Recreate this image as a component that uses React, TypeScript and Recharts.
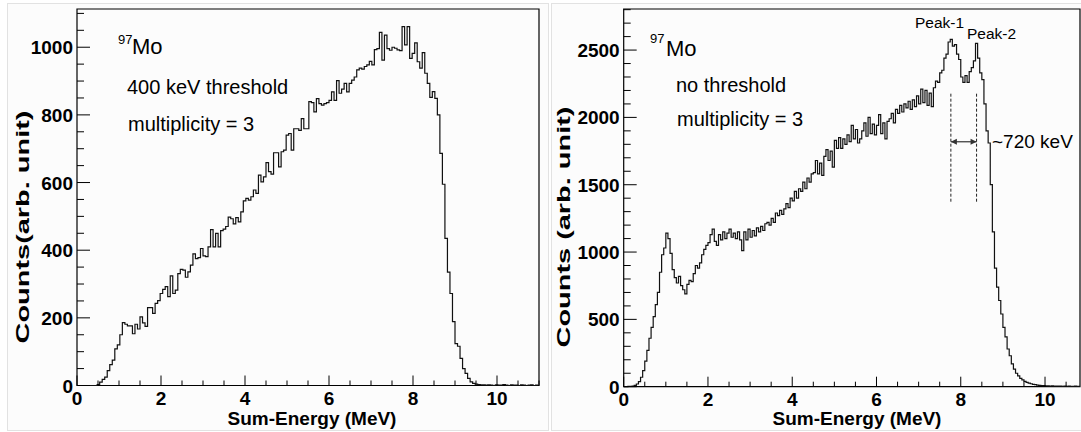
import { LineChart, Line, XAxis, YAxis, ReferenceArea, ReferenceLine } from "recharts";

// histogram bin widths (MeV)
const binLeft = 0.06;
const binRight = 0.05;

// 400 keV threshold, multiplicity 3 (bins from 0 MeV)
const countsLeft = [
  0, 0, 0, 0, 0, 0, 0, 0,
  3, 10, 18, 25, 44, 62, 75, 108, 120, 150,
  186, 181, 176, 176, 153, 181, 167, 203, 185, 175,
  230, 230, 213, 243, 251, 272, 284, 292, 263, 324,
  272, 282, 331, 343, 341, 320, 336, 356, 389, 375,
  378, 405, 383, 381, 410, 461, 410, 450, 410, 458,
  462, 470, 498, 493, 478, 496, 484, 513, 546, 553,
  548, 558, 578, 568, 622, 602, 617, 659, 632, 625,
  688, 688, 646, 691, 696, 740, 745, 696, 759, 759,
  754, 789, 759, 759, 839, 836, 809, 848, 833, 829,
  833, 836, 843, 868, 843, 901, 864, 876, 893, 868,
  893, 903, 912, 933, 938, 935, 943, 948, 958, 948,
  993, 996, 1044, 962, 1036, 996, 991, 1000, 997, 992,
  990, 1061, 1007, 1061, 967, 982, 1013, 957, 938, 984,
  923, 893, 852, 869, 849, 800, 686, 595, 435, 335,
  272, 189, 124, 116, 80, 50, 36, 21, 11, 6,
  4,
  3, 2, 2, 1, 2, 1, 0, 2, 1, 1, 3, 1, 0, 2, 1, 1, 0, 2, 1, 0, 1, 2, 0, 1,
];

// no threshold, multiplicity 3 (bins from 0 MeV)
const countsRight = [
  0, 1, 2, 3, 5, 10, 20, 38, 70, 120,
  190, 270, 360, 440, 520, 610, 700, 850, 980, 1030,
  1140, 1100, 990, 870, 810, 770, 820, 750, 720, 690,
  760, 790, 780, 840, 900, 880, 920, 980, 1020, 1050,
  1070, 1130, 1170, 1080, 1050, 1130, 1090, 1150, 1100, 1140,
  1170, 1110, 1140, 1100, 1150, 1090, 1010, 1150, 1090, 1170,
  1110, 1160, 1120, 1180, 1150, 1190, 1160, 1210, 1220, 1200,
  1250, 1220, 1290, 1270, 1310, 1280, 1320, 1360, 1330, 1400,
  1380, 1450, 1400, 1470, 1450, 1520, 1470, 1550, 1520, 1580,
  1590, 1680, 1580, 1660, 1570, 1710, 1760, 1680, 1750, 1630,
  1830, 1770, 1850, 1770, 1840, 1800, 1870, 1820, 1940, 1840,
  1910, 1810, 1840, 1900, 1960, 1860, 2000, 1880, 1950, 1870,
  1940, 2020, 1880, 1960, 1840, 1970, 1990, 2030, 1960, 2060,
  2030, 2090, 2040, 2100, 2070, 2120, 2060, 2130, 2080, 2160,
  2100, 2210, 2110, 2200, 2090, 2180, 2080, 2220, 2270, 2260,
  2330, 2350, 2440, 2470, 2560, 2580, 2530, 2540, 2470, 2430,
  2300, 2260, 2310, 2260, 2340, 2370, 2420, 2550, 2440, 2330,
  2280, 2100, 1900, 1810, 1500, 1150, 880, 740, 640, 540,
  440, 370, 280, 230, 170, 130, 100, 80, 62, 50,
  40, 32, 26, 22, 18, 15, 12, 10, 9, 8,
  7, 6, 5, 6, 4, 5, 4, 4, 3, 5,
  3, 4, 3, 3, 4, 2, 3,
];

const xTicks = [0, 0.5, 1, 1.5, 2, 2.5, 3, 3.5, 4, 4.5, 5, 5.5, 6, 6.5, 7, 7.5, 8, 8.5, 9, 9.5, 10, 10.5, 11];
const yTicksLeft = [0, 50, 100, 150, 200, 250, 300, 350, 400, 450, 500, 550, 600, 650, 700, 750, 800, 850, 900, 950, 1000, 1050, 1100];
const yTicksRight = [0, 100, 200, 300, 400, 500, 600, 700, 800, 900, 1000, 1100, 1200, 1300, 1400, 1500, 1600, 1700, 1800, 1900, 2000, 2100, 2200, 2300, 2400, 2500, 2600, 2700, 2800];

// peak markers on the right panel
const peak1E = 7.765;
const peak2E = 8.375;
const markLow = 1374;
const markHigh = 2190;
const arrowY = 1819;

const font = "'Liberation Sans', Arial, Helvetica, sans-serif";

function toSteps(counts: number[], width: number) {
  const pts = counts.map((c, i) => ({ e: +(i * width).toFixed(3), c }));
  pts.push({ e: +(counts.length * width).toFixed(3), c: counts[counts.length - 1] });
  return pts;
}

const XTick = (props: any) => {
  const { x, y, payload } = props;
  const major = payload.value % 2 === 0;
  return (
    <g>
      <line x1={x} x2={x} y1={y} y2={y - (major ? 10 : 5)} stroke="#000" strokeWidth={1} />
      {major && (
        <text x={x} y={y + 19} textAnchor="middle" fontSize={19} fontWeight="bold" fontFamily={font} fill="#000">
          {payload.value}
        </text>
      )}
    </g>
  );
};

const makeYTick = (step: number) => (props: any) => {
  const { x, y, payload } = props;
  const major = payload.value % step === 0;
  return (
    <g>
      <line x1={x} x2={x + (major ? 13 : 7)} y1={y} y2={y} stroke="#000" strokeWidth={1} />
      {major && (
        <text x={x - 4} y={y + 7} textAnchor="end" fontSize={19} fontWeight="bold" fontFamily={font} fill="#000">
          {payload.value}
        </text>
      )}
    </g>
  );
};

const arrowShape = (p: any) => {
  const { x1, y1, x2, y2 } = p;
  return (
    <g>
      <line x1={x1} y1={y1} x2={x2} y2={y2} stroke="#333" strokeWidth={1.2} />
      <polygon points={`${x1},${y1} ${x1 + 6},${y1 - 3} ${x1 + 6},${y1 + 3}`} fill="#333" />
      <polygon points={`${x2},${y2} ${x2 - 6},${y2 - 3} ${x2 - 6},${y2 + 3}`} fill="#333" />
    </g>
  );
};

export default function App() {
  const leftData = toSteps(countsLeft, binLeft);
  const rightData = toSteps(countsRight, binRight);
  const leftMax = 1113;
  const rightMax = 2805;
  const rightXMax = 10.83;

  return (
    <div style={{ position: "absolute", left: 0, top: 0, width: 1081, height: 432, overflow: "hidden", background: "#fff" }}>
      <div style={{ position: "absolute", left: 7, top: 3, width: 540, height: 426, border: "1px solid #e2e2e2", background: "#fcfcfc" }} />
      <div style={{ position: "absolute", left: 551, top: 3, width: 540, height: 426, border: "1px solid #e2e2e2", background: "#fcfcfc" }} />
      <div style={{ position: "absolute", left: 0, top: 0 }}>
        <LineChart width={545} height={432} data={leftData} margin={{ top: 9, right: 6, bottom: 16.5, left: 17 }}>
          <XAxis dataKey="e" type="number" domain={[0, 11]} ticks={xTicks} interval={0} height={30}
            tickSize={0} tickMargin={0} tickLine={false} axisLine={false} tick={XTick} />
          <YAxis type="number" domain={[0, leftMax]} ticks={yTicksLeft} interval={0} width={60}
            tickSize={0} tickMargin={0} tickLine={false} axisLine={false} tick={makeYTick(200)} />
          <ReferenceArea x1={0} x2={11} y1={0} y2={leftMax} fill="none" stroke="#000" strokeWidth={1.2} />
          <Line type="stepAfter" dataKey="c" stroke="#111" strokeWidth={1.2} dot={false} isAnimationActive={false} />
        </LineChart>
      </div>
      <div style={{ position: "absolute", left: 545, top: 0 }}>
        <LineChart width={536} height={432} data={rightData} margin={{ top: 9, right: 1, bottom: 15.3, left: 18.7 }}>
          <XAxis dataKey="e" type="number" domain={[0, rightXMax]} allowDataOverflow ticks={xTicks.filter((t) => t <= rightXMax)}
            interval={0} height={30} tickSize={0} tickMargin={0} tickLine={false} axisLine={false} tick={XTick} />
          <YAxis type="number" domain={[0, rightMax]} ticks={yTicksRight} interval={0} width={60}
            tickSize={0} tickMargin={0} tickLine={false} axisLine={false} tick={makeYTick(500)} />
          <ReferenceArea x1={0} x2={rightXMax} y1={0} y2={rightMax} fill="none" stroke="#000" strokeWidth={1.2} />
          <Line type="stepAfter" dataKey="c" stroke="#111" strokeWidth={1.2} dot={false} isAnimationActive={false} />
          <ReferenceLine segment={[{ x: peak1E, y: markLow }, { x: peak1E, y: markHigh }]} stroke="#222" strokeDasharray="3 2" />
          <ReferenceLine segment={[{ x: peak2E, y: markLow }, { x: peak2E, y: markHigh }]} stroke="#222" strokeDasharray="3 2" />
          <ReferenceLine segment={[{ x: peak1E, y: arrowY }, { x: peak2E, y: arrowY }]} shape={arrowShape} />
        </LineChart>
      </div>
      <svg width={1081} height={432} style={{ position: "absolute", left: 0, top: 0, pointerEvents: "none" }} fontFamily={font}>
        {/* left panel texts */}
        <text x={118} y={44} fontSize={13} fill="#000">97</text>
        <text x={132} y={54} fontSize={22} fill="#000">Mo</text>
        <text x={127} y={94} fontSize={20} fill="#000">400 keV threshold</text>
        <text x={128} y={131} fontSize={20} fill="#000">multiplicity = 3</text>
        <text x={312} y={425} fontSize={19} fontWeight="bold" textAnchor="middle" fill="#000">Sum-Energy (MeV)</text>
        <text transform="translate(29,227) rotate(-90)" fontSize={19} fontWeight="bold" textAnchor="middle"
          textLength={233} lengthAdjust="spacingAndGlyphs" fill="#000">Counts(arb. unit)</text>
        {/* right panel texts */}
        <text x={650} y={43} fontSize={13} fill="#000">97</text>
        <text x={666} y={56} fontSize={22} fill="#000">Mo</text>
        <text x={676} y={92} fontSize={20} fill="#000">no threshold</text>
        <text x={677} y={126} fontSize={20} fill="#000">multiplicity = 3</text>
        <text x={915} y={28} fontSize={15.5} fill="#000">Peak-1</text>
        <text x={967} y={39} fontSize={15.5} fill="#000">Peak-2</text>
        <text x={992} y={148} fontSize={19} fill="#000">~720 keV</text>
        <text x={857} y={425} fontSize={19} fontWeight="bold" textAnchor="middle" fill="#000">Sum-Energy (MeV)</text>
        <text transform="translate(570,227) rotate(-90)" fontSize={19} fontWeight="bold" textAnchor="middle"
          textLength={241} lengthAdjust="spacingAndGlyphs" fill="#000">Counts (arb. unit)</text>
      </svg>
    </div>
  );
}
